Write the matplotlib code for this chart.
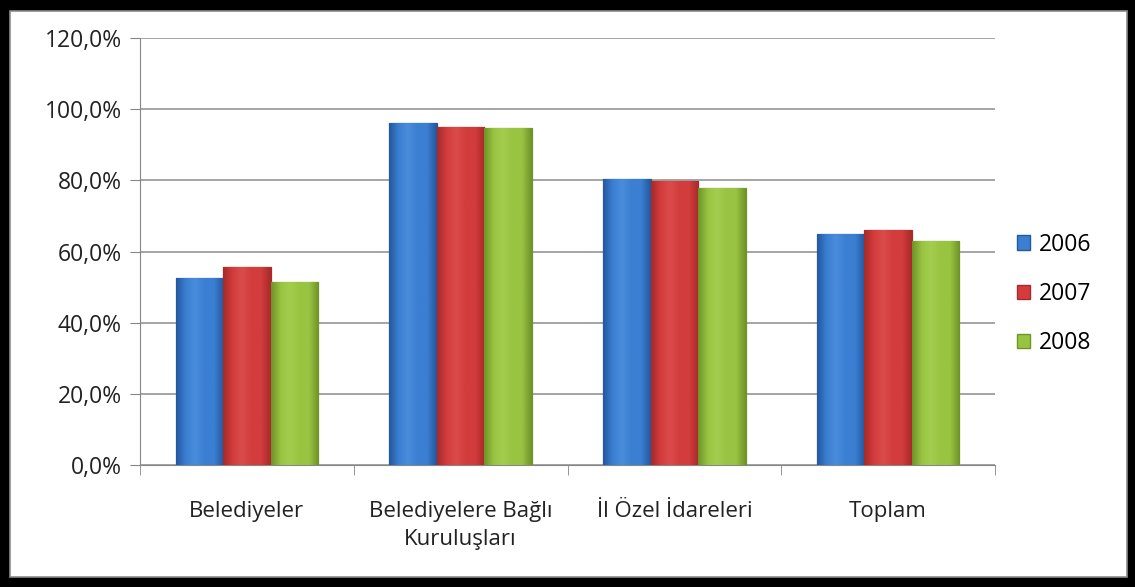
import numpy as np
import matplotlib.pyplot as plt
from matplotlib.patches import Rectangle, Patch
from matplotlib.colors import LinearSegmentedColormap

plt.rcParams['font.family'] = ['Open Sans', 'DejaVu Sans']

categories = ['Belediyeler', 'Belediyelere Bağlı\nKuruluşları', 'İl Özel İdareleri', 'Toplam']
years = ['2006', '2007', '2008']
v2006 = [52.6, 96.2, 80.5, 65.0]
v2007 = [55.7, 95.0, 79.9, 66.1]
v2008 = [51.5, 94.6, 77.9, 62.9]
yticks = [0, 20, 40, 60, 80, 100, 120]
ytick_labels = ['0,0%', '20,0%', '40,0%', '60,0%', '80,0%', '100,0%', '120,0%']

series = [v2006, v2007, v2008]
# dark edge, mid, light for a bit of shading
shades = [('#24589e', '#3b7fd3', '#4a8cdc'),
          ('#a82a2a', '#d33c3c', '#db4b4b'),
          ('#6f9428', '#99c442', '#a4cd4f')]

fig = plt.figure(figsize=(11.35, 5.87), dpi=100)
fig.patch.set_facecolor('black')
fig.add_artist(Rectangle((10/1135, 10/587), 1117/1135, 566/587, transform=fig.transFigure,
                         facecolor='white', edgecolor='#8c8c8c', linewidth=1.2, zorder=0))

ax = fig.add_axes([140/1135, 1 - 465/587, 855/1135, 427/587])
ax.set_facecolor('none')

x = np.arange(len(categories))
w = 0.222
for i, vals in enumerate(series):
    dark, mid, light = shades[i]
    cmap = LinearSegmentedColormap.from_list('s', [dark, mid, light, mid, mid, dark])
    bars = ax.bar(x + (i - 1) * w, vals, width=w, color=mid, edgecolor=dark,
                  linewidth=0.9, zorder=3)
    for b in bars:
        x0, y0 = b.get_x(), b.get_y()
        im = ax.imshow(np.linspace(0, 1, 64).reshape(1, -1), cmap=cmap, aspect='auto',
                       extent=(x0, x0 + b.get_width(), y0, y0 + b.get_height()),
                       zorder=3.5)
        im.set_clip_path(b)

ax.set_xlim(-0.5, len(categories) - 0.5)
ax.set_ylim(0, 120)
ax.set_yticks(yticks)
ax.set_yticklabels(ytick_labels, fontsize=16.5, color='#222222')
ax.set_xticks(x)
ax.set_xticklabels(categories, fontsize=16, color='#222222', linespacing=1.45)
ax.tick_params(axis='x', length=0, pad=26)
ax.set_xticks(np.arange(-0.5, len(categories)), minor=True)
ax.tick_params(axis='x', which='minor', length=7, color='#868686', direction='out')
ax.tick_params(axis='y', length=7, color='#868686', direction='out', pad=6)

ax.grid(axis='y', color='#8c8c8c', linewidth=1.1, zorder=0)
for s in ['top', 'right']:
    ax.spines[s].set_visible(False)
ax.spines['left'].set_color('#868686')
ax.spines['bottom'].set_color('#868686')

handles = [Patch(facecolor=shades[i][1], edgecolor=shades[i][0]) for i in range(3)]
leg = fig.legend(handles, years, loc='center left', bbox_to_anchor=(996/1135, 1 - 294/587),
                 frameon=False, fontsize=16.5, handlelength=0.6, handleheight=0.6,
                 handletextpad=0.35, labelspacing=1.1)

fig.savefig('out.png', dpi=100, facecolor=fig.get_facecolor())
